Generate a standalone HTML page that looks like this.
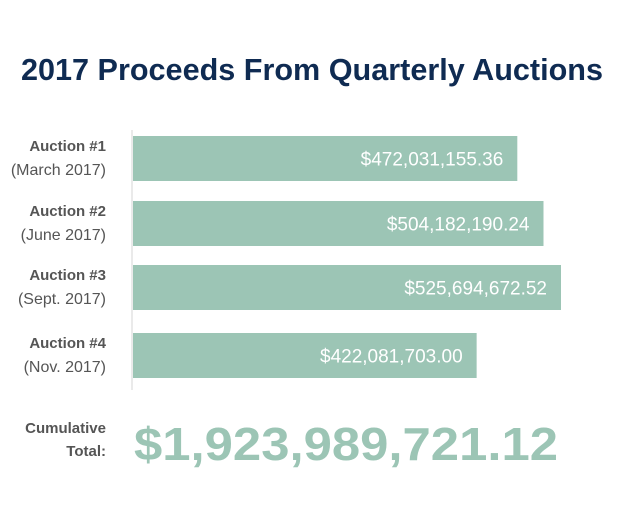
<!DOCTYPE html>
<html><head><meta charset="utf-8"><style>
body{margin:0;background:#fff;}
svg{display:block;font-family:"Liberation Sans",sans-serif;}
</style></head><body>
<svg width="620" height="516" viewBox="0 0 620 516">
<text x="312" y="80" text-anchor="middle" font-size="31" font-weight="bold" fill="#0f2b52" textLength="582" lengthAdjust="spacingAndGlyphs">2017 Proceeds From Quarterly Auctions</text>
<line x1="132" y1="130" x2="132" y2="390" stroke="#e4e4e4" stroke-width="1.5"/>
<g id="bars"></g>
<text x="106" y="433" text-anchor="end" font-size="15" font-weight="bold" fill="#555">Cumulative</text>
<text x="106" y="456" text-anchor="end" font-size="15" font-weight="bold" fill="#555">Total:</text>
<text x="134" y="460" font-size="46" font-weight="bold" fill="#9cc5b5" textLength="424" lengthAdjust="spacingAndGlyphs">$1,923,989,721.12</text>
</svg>
<script>
const categories=["Auction #1","Auction #2","Auction #3","Auction #4"];
const subLabels=["(March 2017)","(June 2017)","(Sept. 2017)","(Nov. 2017)"];
const values=[472031155.36,504182190.24,525694672.52,422081703.00];
const valueLabels=["$472,031,155.36","$504,182,190.24","$525,694,672.52","$422,081,703.00"];
const NS="http://www.w3.org/2000/svg";
const g=document.getElementById('bars');
const x0=133,xMaxPx=428,maxV=525694672.52;
function xs(v){return v/maxV*xMaxPx;}
const tops=[136,201,265,333];
function yTop(i){return tops[i];}
const bh=45;
values.forEach((v,i)=>{
 const y=yTop(i);
 const r=document.createElementNS(NS,'rect');
 r.setAttribute('x',x0);r.setAttribute('y',y);r.setAttribute('width',xs(v));r.setAttribute('height',bh);r.setAttribute('fill','#9cc5b5');
 
 
 g.appendChild(r);
 const t=document.createElementNS(NS,'text');
 t.setAttribute('x',x0+xs(v)-14);t.setAttribute('y',y+bh/2+7);t.setAttribute('text-anchor','end');
 t.setAttribute('font-size','19');t.setAttribute('fill','#fff');t.textContent=valueLabels[i];
 
 
 g.appendChild(t);
 const a=document.createElementNS(NS,'text');
 a.setAttribute('x',106);a.setAttribute('y',y+15);a.setAttribute('text-anchor','end');
 a.setAttribute('font-size','15');a.setAttribute('font-weight','bold');a.setAttribute('fill','#555');a.textContent=categories[i];
 
 
 g.appendChild(a);
 const b=document.createElementNS(NS,'text');
 b.setAttribute('x',106);b.setAttribute('y',y+39);b.setAttribute('text-anchor','end');
 b.setAttribute('font-size','16');b.setAttribute('fill','#555');b.textContent=subLabels[i];
 
 
 g.appendChild(b);
});
</script>
</body></html>
